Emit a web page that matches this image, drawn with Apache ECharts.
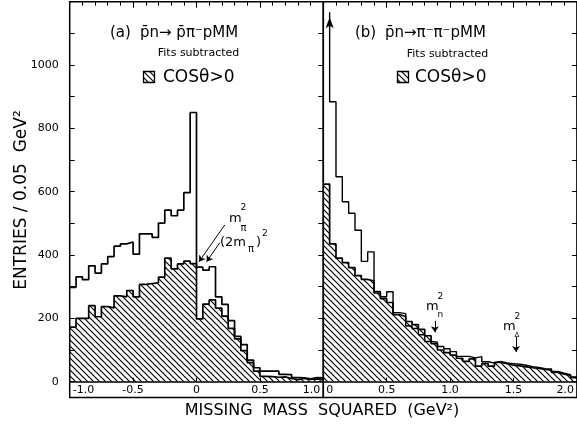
<!DOCTYPE html>
<html><head><meta charset="utf-8">
<script src="https://cdn.jsdelivr.net/npm/echarts@6/dist/echarts.min.js"></script>
<style>html,body{margin:0;padding:0;background:#fff}#c{width:577px;height:427px}</style>
</head><body><div id="c"></div>
<script>
// ---- data (entries per 0.05 GeV^2 bin) ----
const binWidth = 0.05;
const xStartA = -1.0;
const xStartB = 0.0;
// panel (a): all events and cos(theta)>0 (hatched), bins from -1.0 to 1.0
const outerA = [298, 331, 322, 366, 343, 372, 395, 428, 435, 441, 403, 467, 467, 456, 501, 542, 524, 542, 597, 850,
                362, 352, 363, 268, 244, 193, 143, 117, 60, 44, 33, 33, 33, 23, 22, 13, 12, 9, 13, 12];
const hatchA = [172, 200, 200, 240, 205, 237, 233, 271, 268, 288, 268, 307, 310, 312, 330, 390, 356, 372, 381, 373,
                198, 245, 258, 232, 207, 168, 135, 98, 68, 33, 17, 16, 14, 15, 10, 6, 10, 7, 9, 6];
// panel (b): bins from 0 to 2.0 ; first bin of outerB is off scale (arrow)
const outerB = [1167, 884, 647, 568, 532, 478, 380, 410, 285, 268, 284, 218, 215, 176, 168, 148, 127, 125, 111, 104,
                95, 80, 80, 75, 79, 63, 59, 64, 59, 57, 55, 52, 47, 45, 41, 40, 32, 27, 22, 15];
const hatchB = [624, 435, 390, 376, 360, 335, 323, 318, 280, 262, 250, 212, 206, 190, 180, 165, 145, 120, 100, 92,
                84, 74, 64, 72, 49, 57, 49, 61, 57, 52, 50, 47, 44, 42, 39, 36, 29, 24, 20, 13];
// tick labels
const xTickValuesA = [-1, -0.5, 0, 0.5, 1];
const xTickLabelsA = ['-1.0', '-0.5', '0', '0.5', '1.0'];
const xTickValuesB = [0, 0.5, 1, 1.5, 2];
const xTickLabelsB = ['0', '0.5', '1.0', '1.5', '2.0'];
const yTickValues = [0, 200, 400, 600, 800, 1000];
const yTickLabels = ['0', '200', '400', '600', '800', '1000'];
const yMinorValues = [0, 100, 200, 300, 400, 500, 600, 700, 800, 900, 1000, 1100];
// annotation positions (GeV^2)
const mPi2 = 0.02, twoMPi2 = 0.08, mN2 = 0.88, mDelta2 = 1.52;

const FONT = "'DejaVu Sans', sans-serif";

function steps(x0, vals, openFirst) {
  const pts = vals.map((v, i) => [+(x0 + i * binWidth).toFixed(4), v]);
  if (openFirst) pts[0] = [+(x0 + binWidth).toFixed(4), vals[0]];
  pts.push([+(x0 + vals.length * binWidth).toFixed(4), vals[vals.length - 1]]);
  return pts;
}
function hatchCanvas(s, lw) {
  const c = document.createElement('canvas');
  c.width = s; c.height = s;
  const g = c.getContext('2d');
  g.strokeStyle = '#000'; g.lineWidth = lw;
  g.beginPath();
  g.moveTo(-1, -1); g.lineTo(s + 1, s + 1);
  g.moveTo(s - 1, -1); g.lineTo(s + 1, 1);
  g.moveTo(-1, s - 1); g.lineTo(1, s + 1);
  g.stroke();
  return c;
}
const pat = { image: hatchCanvas(6, 1.2), repeat: 'repeat' };

const chart = echarts.init(document.getElementById('c'), null, { renderer: 'canvas' });

function labelMap(values, labels) {
  return v => { const i = values.findIndex(t => Math.abs(t - v) < 1e-9); return i >= 0 ? labels[i] : ''; };
}
function labelX(grid, min, max, vals, labs) {
  return {
    type: 'value', gridIndex: grid, min: min, max: max, position: 'bottom',
    axisLine: { show: false, onZero: false }, axisTick: { show: false },
    axisLabel: { inside: true, customValues: vals, formatter: labelMap(vals, labs), margin: 2, color: '#000',
                 fontSize: 11, fontFamily: FONT, alignMinLabel: 'left', alignMaxLabel: 'right',
                 padding: [0, 3, 0, 3] },
    splitLine: { show: false }
  };
}
function zeroX(grid, min, max, vals) {
  return {
    type: 'value', gridIndex: grid, min: min, max: max, position: 'bottom',
    axisLine: { show: true, onZero: true, lineStyle: { color: '#000', width: 1.5 } },
    axisTick: { show: true, inside: true, length: 4, customValues: vals, lineStyle: { color: '#000', width: 1 } },
    axisLabel: { show: false }, splitLine: { show: false }
  };
}
function topX(grid, min, max) {
  return {
    type: 'value', gridIndex: grid, min: min, max: max, interval: 0.5, position: 'top',
    axisLine: { show: false, onZero: false },
    axisTick: { show: true, inside: true, length: 6, lineStyle: { color: '#000', width: 1 } },
    minorTick: { show: true, splitNumber: 5, length: 4, lineStyle: { color: '#000', width: 1 } },
    axisLabel: { show: false }, splitLine: { show: false }
  };
}
function yAx(grid, pos, labels, ticks) {
  return {
    type: 'value', gridIndex: grid, min: -50, max: 1200, position: pos,
    axisLine: { show: false, onZero: false },
    axisTick: { show: ticks, inside: true, length: 5, customValues: yMinorValues, lineStyle: { color: '#000', width: 1 } },
    axisLabel: { show: labels, customValues: yTickValues, formatter: labelMap(yTickValues, yTickLabels),
                 margin: 11, color: '#000', fontSize: 11, fontFamily: FONT },
    splitLine: { show: false }
  };
}
const histLine = { color: '#000', width: 1.7 };
const arrowML = (pairs) => ({
  silent: true, symbol: ['none', 'arrow'], symbolSize: 6, label: { show: false },
  lineStyle: { color: '#000', width: 1, type: 'solid' },
  data: pairs.map(p => [{ coord: p[0] }, { coord: p[1] }])
});

function txt(x, y, text, size, align, extra) {
  return Object.assign({ type: 'text', x: x, y: y, silent: true,
    style: { text: text, fontSize: size, fontFamily: FONT, fill: '#000', align: align || 'left', verticalAlign: 'middle' } }, extra || {});
}

const option = {
  animation: false,
  backgroundColor: '#fff',
  grid: [
    { left: 69.7, top: 1.7, width: 253.6, height: 395.8, show: true, borderColor: '#000', borderWidth: 1.5, backgroundColor: 'transparent' },
    { left: 323.3, top: 1.7, width: 253.6, height: 395.8, show: true, borderColor: '#000', borderWidth: 1.5, backgroundColor: 'transparent' }
  ],
  xAxis: [
    labelX(0, -1, 1, xTickValuesA, xTickLabelsA),
    zeroX(0, -1, 1, xTickValuesA),
    topX(0, -1, 1),
    labelX(1, 0, 2, xTickValuesB, xTickLabelsB),
    zeroX(1, 0, 2, xTickValuesB),
    topX(1, 0, 2)
  ],
  yAxis: [
    yAx(0, 'left', true, true),
    yAx(0, 'right', false, true),
    yAx(1, 'left', false, false),
    yAx(1, 'right', false, true)
  ],
  series: [
    { type: 'line', xAxisIndex: 0, yAxisIndex: 0, step: 'end', symbol: 'none', data: steps(xStartA, hatchA),
      lineStyle: histLine, areaStyle: { color: pat, opacity: 1 }, z: 2 },
    { type: 'line', xAxisIndex: 0, yAxisIndex: 0, step: 'end', symbol: 'none', data: steps(xStartA, outerA),
      lineStyle: histLine, z: 3,
      markLine: arrowML([[[0.223, 495], [mPi2, 379]], [[0.184, 439], [twoMPi2, 379]]]) },
    { type: 'line', xAxisIndex: 3, yAxisIndex: 2, step: 'end', symbol: 'none', data: steps(xStartB, hatchB),
      lineStyle: histLine, areaStyle: { color: pat, opacity: 1 }, z: 2 },
    { type: 'line', xAxisIndex: 3, yAxisIndex: 2, step: 'end', symbol: 'none', data: steps(xStartB, outerB, true),
      lineStyle: { color: '#000', width: 1.4 }, z: 3,
      markPoint: { silent: true, symbol: 'arrow', symbolSize: [6, 11], symbolOffset: [0, 5],
                   itemStyle: { color: '#000' }, label: { show: false },
                   data: [{ coord: [xStartB + binWidth, outerB[0]] }] },
      markLine: arrowML([[[mN2, 192], [mN2, 156]], [[mDelta2, 142], [mDelta2, 94]]]) }
  ],
  graphic: [
    txt(110, 33, '(a)', 15),
    txt(140, 33, 'p̄n→ p̄π⁻pMM', 15),
    txt(198.5, 53, 'Fits subtracted', 11, 'center'),
    { type: 'rect', shape: { x: 143.5, y: 71.5, width: 11, height: 11 }, silent: true,
      style: { fill: pat, stroke: '#000', lineWidth: 1.3 } },
    txt(163, 78, 'COSθ>0', 17),
    txt(355, 33, '(b)', 15),
    txt(385, 33, 'p̄n→π⁻π⁻pMM', 15),
    txt(447.5, 54, 'Fits subtracted', 11, 'center'),
    { type: 'rect', shape: { x: 397.5, y: 71.5, width: 11, height: 11 }, silent: true,
      style: { fill: pat, stroke: '#000', lineWidth: 1.3 } },
    txt(415, 78, 'COSθ>0', 17),
    // annotations panel (a)
    txt(229, 219, 'm', 13), txt(240.5, 208, '2', 9), txt(240.5, 228, 'π', 10),
    txt(220, 243, '(2m', 13), txt(248, 249, 'π', 10), txt(256, 243, ')', 13), txt(262, 234, '2', 9),
    // annotations panel (b)
    txt(426, 307, 'm', 13), txt(437.5, 297, '2', 9), txt(437.5, 315, 'n', 9),
    txt(503, 327, 'm', 13), txt(514.5, 317, '2', 9), txt(514.5, 335, 'Δ', 7),
    // axis titles
    txt(322, 411, 'MISSING  MASS  SQUARED  (GeV²)', 16, 'center'),
    txt(22, 200, 'ENTRIES / 0.05  GeV²', 17, 'center', { rotation: Math.PI / 2 })
  ]
};
chart.setOption(option);
</script></body></html>
